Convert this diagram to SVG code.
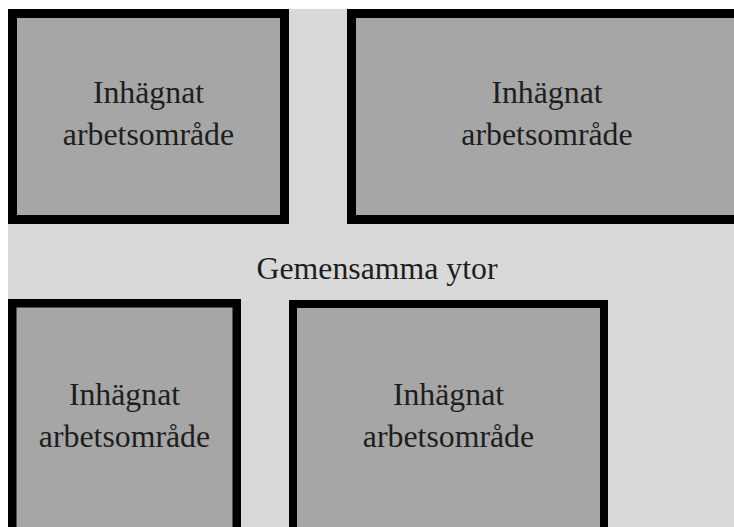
<svg xmlns="http://www.w3.org/2000/svg" width="734" height="527" viewBox="0 0 734 527">
<style>
.area{fill:#a6a6a6;stroke:#000;stroke-width:9}
.lbl{font-family:"Liberation Serif","Times New Roman",serif;font-size:31.8px;fill:#1e1e1e;text-anchor:middle}
</style>
<rect x="0" y="0" width="734" height="527" fill="#ffffff"/>
<rect id="gemensamma-ytor-bg" x="8" y="9" width="726" height="518" fill="#d9d9d9"/>
<g id="area1">
<rect class="area" x="12.5" y="13.5" width="272" height="206"/>
<text class="lbl" x="148.5" y="103">Inhägnat</text>
<text class="lbl" x="148.5" y="145">arbetsområde</text>
</g>
<g id="area2">
<rect class="area" x="351.5" y="13.5" width="500" height="206"/>
<text class="lbl" x="547" y="103">Inhägnat</text>
<text class="lbl" x="547" y="145">arbetsområde</text>
</g>
<g id="common">
<text class="lbl" x="377" y="279">Gemensamma ytor</text>
</g>
<g id="area3">
<rect class="area" style="stroke-width:8.5" x="12.25" y="303.25" width="224.5" height="300"/>
<text class="lbl" x="124.5" y="405">Inhägnat</text>
<text class="lbl" x="124.5" y="447">arbetsområde</text>
</g>
<g id="area4">
<rect class="area" style="stroke-width:8" x="293" y="304" width="311" height="300"/>
<text class="lbl" x="448.5" y="405">Inhägnat</text>
<text class="lbl" x="448.5" y="447">arbetsområde</text>
</g>
<g id="connectors"/>
</svg>
